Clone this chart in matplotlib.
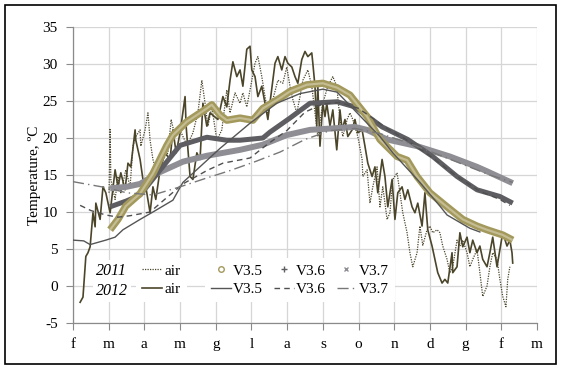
import matplotlib
matplotlib.use("Agg")
import matplotlib.pyplot as plt
from matplotlib.lines import Line2D
from matplotlib.patches import Rectangle

plt.rcParams['font.family'] = ['Liberation Serif', 'DejaVu Serif']
plt.rcParams['axes.unicode_minus'] = False

# x positions are months counted from the 1st of February
month_labels = ['f', 'm', 'a', 'm', 'g', 'l', 'a', 's', 'o', 'n', 'd', 'g', 'f', 'm']

# measured air temperature, 2011 season
air11_m = [1.01, 1.04, 1.06, 1.18, 1.26, 1.34, 1.48, 1.60, 1.68, 1.76, 1.88, 1.90, 2.02, 2.10,
           2.16, 2.24, 2.38, 2.52, 2.66, 2.75, 2.86, 3.00, 3.08, 3.20, 3.36, 3.50, 3.61, 3.70,
           3.78, 3.89, 4.03, 4.17, 4.31, 4.40, 4.54, 4.68, 4.76, 4.87, 4.98, 5.10, 5.18, 5.29,
           5.38, 5.46, 5.60, 5.74, 5.88, 5.99, 6.08, 6.16, 6.27, 6.36, 6.44, 6.58, 6.69, 6.86,
           7.00, 7.14, 7.28, 7.39, 7.48, 7.56, 7.68, 7.76, 7.84, 7.98, 8.10, 8.12, 8.24, 8.32,
           8.40, 8.52, 8.60, 8.68, 8.80, 8.88, 8.96, 9.08, 9.16, 9.24, 9.36, 9.44, 9.52, 9.64,
           9.72, 9.80, 9.92, 10.00, 10.08, 10.20, 10.28, 10.36, 10.48, 10.56, 10.64, 10.76,
           10.84, 10.92, 11.04, 11.12, 11.20, 11.32, 11.40, 11.48, 11.60, 11.68, 11.76, 11.88,
           11.96, 12.04, 12.13, 12.18, 12.24]
air11_t = [12.6, 21.3, 14.4, 11.7, 14.8, 12.6, 15.7, 13.4, 18.9, 20.2, 21.1, 18.9, 21.1, 23.4,
           19.7, 17.1, 14.8, 17.1, 18.0, 22.5, 20.2, 21.1, 20.2, 19.0, 20.7, 23.4, 27.8, 24.7,
           21.6, 24.2, 19.7, 21.1, 26.5, 23.4, 26.1, 24.7, 26.1, 24.2, 27.0, 30.1, 31.0, 28.3,
           25.6, 23.4, 25.2, 27.8, 27.4, 29.6, 27.0, 25.2, 23.4, 25.6, 27.8, 29.2, 27.0, 20.2,
           24.7, 27.0, 28.3, 27.0, 22.5, 20.2, 22.5, 23.4, 22.5, 20.2, 17.1, 14.8, 15.7, 11.2,
           13.4, 16.1, 10.7, 13.4, 9.0, 9.9, 14.4, 15.3, 12.6, 9.9, 7.2, 4.5, 2.6, 4.5,
           8.1, 5.5, 7.6, 8.1, 7.2, 7.6, 7.2, 5.4, 3.6, 1.8, 2.6, 6.2,
           5.4, 6.2, 4.5, 2.6, 3.6, 4.9, 1.8, -1.4, 0.0, 2.6, 4.5, 3.6,
           0.9, -1.4, -2.8, 0.9, 2.6]

# measured air temperature, 2012 season
air12_m = [0.20, 0.28, 0.36, 0.42, 0.48, 0.56, 0.62, 0.64, 0.76, 0.84, 0.92, 1.04, 1.06, 1.18,
           1.26, 1.34, 1.46, 1.54, 1.62, 1.74, 1.76, 1.88, 1.96, 2.04, 2.16, 2.24, 2.32, 2.44,
           2.58, 2.72, 2.80, 2.89, 3.00, 3.14, 3.17, 3.28, 3.36, 3.47, 3.56, 3.64, 3.75, 3.84,
           4.06, 4.20, 4.31, 4.40, 4.48, 4.59, 4.68, 4.76, 4.87, 4.96, 5.01, 5.10, 5.18, 5.29,
           5.38, 5.46, 5.66, 5.74, 5.85, 5.94, 6.02, 6.13, 6.22, 6.30, 6.41, 6.50, 6.58, 6.69,
           6.72, 6.78, 6.83, 6.86, 6.92, 7.00, 7.06, 7.11, 7.20, 7.28, 7.39, 7.48, 7.54, 7.62,
           7.70, 7.82, 7.90, 7.98, 8.10, 8.18, 8.26, 8.38, 8.46, 8.54, 8.66, 8.74, 8.82, 8.94,
           9.02, 9.10, 9.22, 9.30, 9.38, 9.50, 9.58, 9.66, 9.78, 9.86, 9.94, 10.06, 10.14, 10.22,
           10.34, 10.42, 10.50, 10.62, 10.64, 10.76, 10.84, 10.92, 11.04, 11.12, 11.20, 11.32,
           11.40, 11.48, 11.60, 11.68, 11.76, 11.88, 11.96, 12.04, 12.16, 12.24, 12.30, 12.32]
air12_t = [-2.2, -1.5, 4.0, 4.5, 5.3, 9.9, 8.0, 11.2, 9.0, 13.4, 12.6, 9.9, 10.7, 15.7,
           13.4, 15.3, 13.0, 16.6, 16.1, 21.1, 19.7, 17.1, 14.4, 13.4, 9.9, 13.4, 11.7, 15.7,
           18.0, 17.1, 21.1, 18.0, 20.7, 25.6, 21.6, 14.8, 14.4, 18.0, 17.1, 24.7, 21.6, 23.4,
           22.5, 25.6, 24.2, 27.8, 30.3, 28.3, 29.2, 27.0, 32.0, 32.4, 29.2, 28.3, 25.6, 27.0,
           24.7, 22.5, 30.1, 31.0, 29.2, 31.0, 30.1, 29.6, 28.3, 27.4, 30.6, 31.7, 31.0, 31.5,
           30.1, 27.0, 21.6, 27.0, 18.9, 24.7, 22.9, 24.7, 21.6, 23.8, 18.4, 23.8, 21.1, 22.5,
           20.2, 21.1, 22.5, 20.7, 21.1, 18.9, 16.6, 14.8, 16.1, 12.6, 17.1, 14.8, 10.7, 14.4,
           9.0, 12.6, 13.4, 11.7, 13.0, 10.7, 9.9, 11.2, 8.1, 12.6, 7.6, 5.4, 3.6, 1.8,
           0.4, 0.9, 0.4, 4.5, 1.8, 2.6, 7.2, 5.3, 6.6, 4.5, 6.2, 4.5,
           5.4, 3.6, 2.6, 4.5, 6.6, 2.6, 4.9, 7.2, 5.4, 6.2, 4.5, 3.1]

# model runs, 2011
v35_11_m = [1.04, 1.26, 1.48, 1.88, 2.24, 2.63, 2.80, 3.19, 3.75, 3.89, 4.12, 4.31, 4.68, 5.04,
            5.32, 5.80, 6.08, 6.55, 7.00, 7.40, 7.76, 8.24, 8.60, 9.08, 9.36, 9.64, 10.00,
            10.48, 10.92, 11.32, 11.60, 12.04, 12.32]
v35_11_t = [7.6, 9.0, 10.8, 12.5, 15.2, 19.0, 20.4, 22.2, 24.0, 24.5, 23.1, 22.4, 22.7, 22.4,
            24.0, 25.4, 26.3, 27.2, 27.4, 26.8, 25.8, 22.9, 19.8, 17.5, 17.0, 14.8, 12.6,
            10.7, 9.0, 8.1, 7.6, 6.9, 6.2]

v36_11_m = [1.04, 1.50, 1.88, 2.63, 3.00, 3.75, 4.31, 4.68, 5.32, 5.52, 6.08, 6.64, 7.40,
            7.90, 8.38, 8.66, 9.38, 10.08, 10.76, 11.32, 11.96, 12.32]
v36_11_t = [10.7, 11.5, 12.3, 16.8, 19.0, 20.1, 19.7, 19.7, 20.0, 20.8, 22.7, 24.7, 24.9,
            24.2, 22.5, 21.5, 19.8, 17.5, 14.8, 13.0, 12.1, 11.2]

v37_11_m = [1.04, 1.50, 1.88, 2.44, 3.08, 3.75, 4.68, 5.32, 5.99, 6.64, 7.28, 7.90, 8.24,
            8.80, 9.64, 10.56, 11.32, 11.60, 12.32]
v37_11_t = [13.2, 13.4, 13.8, 15.4, 16.8, 17.6, 18.4, 19.1, 20.4, 21.1, 21.3, 21.5, 21.1,
            19.8, 18.9, 17.5, 16.1, 15.5, 13.9]

# model runs, 2012
v35_12_m = [0.00, 0.30, 0.48, 0.92, 1.18, 1.40, 1.88, 2.24, 2.80, 3.08, 4.12, 4.96, 5.71,
            6.36, 7.00, 7.40, 7.96, 8.60, 8.96, 9.72, 10.28, 10.48, 11.12, 11.40]
v35_12_t = [6.2, 6.1, 5.6, 6.2, 6.6, 7.6, 9.0, 10.0, 11.6, 14.0, 18.6, 22.0, 24.7,
            26.0, 26.6, 26.2, 23.4, 20.2, 18.0, 14.0, 10.8, 9.6, 7.8, 7.3]

v36_12_m = [0.20, 0.50, 0.92, 1.26, 1.60, 2.16, 2.52, 3.08, 3.75, 4.20, 4.96, 5.46, 5.99,
            6.50, 7.00, 7.48, 8.00, 8.30, 8.82, 9.30, 10.00, 10.76, 11.40, 11.96, 12.24]
v36_12_t = [10.9, 10.2, 9.6, 9.3, 9.5, 10.0, 11.5, 13.8, 15.6, 16.6, 17.3, 19.2, 21.0,
            23.5, 24.6, 24.8, 24.0, 23.0, 21.2, 19.9, 17.6, 14.8, 12.8, 11.7, 10.9]

v37_12_m = [0.00, 0.92, 1.50, 2.24, 3.00, 3.75, 4.40, 5.10, 5.80, 6.50, 7.20, 7.90, 8.60,
            9.30, 10.00, 10.84, 11.68, 12.32]
v37_12_t = [14.1, 13.3, 12.6, 12.3, 13.4, 14.6, 15.6, 16.8, 18.1, 19.8, 21.0, 21.3, 20.6,
            19.5, 18.2, 16.6, 15.0, 14.0]

olive = '#a3995c'
olive_in = '#c4bc92'
air_col = '#4b452a'
dark = '#5e5e62'
light = '#8f8e94'

fig = plt.figure(figsize=(5.61, 3.72), dpi=100)
ax = fig.add_axes([0.1301, 0.1317, 0.8271, 0.7957])

ax.plot(air11_m, air11_t, color=air_col, lw=0.9, linestyle=(0, (1, 1)), zorder=2)
ax.plot(air12_m, air12_t, color=air_col, lw=1.2, zorder=2)

ax.plot(v37_11_m, v37_11_t, color=light, lw=4.3, solid_capstyle='butt', zorder=3)
ax.plot(v36_11_m, v36_11_t, color=dark, lw=3.6, solid_capstyle='butt', zorder=3)
ax.plot(v35_11_m, v35_11_t, color=olive, lw=5.2, solid_capstyle='butt', zorder=3)
ax.plot(v35_11_m, v35_11_t, color=olive_in, lw=1.6, solid_capstyle='butt', zorder=3)

ax.plot(v35_12_m, v35_12_t, color='#555555', lw=1.0, zorder=4)
ax.plot(v36_12_m, v36_12_t, color='#4f4f4f', lw=1.0, linestyle=(0, (4, 3)), zorder=4)
ax.plot(v37_12_m, v37_12_t, color='#777777', lw=1.0, linestyle=(0, (8, 3, 1, 3)), zorder=4)

ax.set_xlim(0, 13)
ax.set_ylim(-5, 35)
ax.set_xticks(range(14))
ax.set_xticklabels(month_labels)
ax.set_yticks(range(-5, 36, 5))
ax.tick_params(axis='both', labelsize=11, color='#8a8a8a', length=5, width=0.8)
ax.tick_params(axis='y', pad=6)
ax.tick_params(axis='x', pad=6)
ax.grid(True, color='#d6d6d6', lw=0.9)
ax.set_axisbelow(True)
for side in ['top', 'right']:
    ax.spines[side].set_visible(False)
for side in ['left', 'bottom']:
    ax.spines[side].set_color('#8a8a8a')
    ax.spines[side].set_linewidth(0.9)
ax.set_ylabel('Temperature, ºC', fontsize=11, labelpad=1)

# legend: air column, then the three model columns
air_handles = [Line2D([], [], color=air_col, lw=0.9, linestyle=(0, (1, 1))),
               Line2D([], [], color=air_col, lw=1.2)]
leg1 = ax.legend(air_handles, ['air', 'air'], loc='lower left',
                 bbox_to_anchor=(0.136, 0.071), borderaxespad=0, fontsize=11,
                 handlelength=1.3, handletextpad=0.15, labelspacing=0.3,
                 frameon=True, fancybox=False, edgecolor='none', framealpha=1)
ax.add_artist(leg1)

model_handles = [Line2D([], [], color=olive, marker='o', mfc='none', ms=4, mew=1, ls='none'),
                 Line2D([], [], color='#555555', lw=1.0),
                 Line2D([], [], color=dark, marker='+', ms=4, mew=1, ls='none'),
                 Line2D([], [], color='#4f4f4f', lw=1.0, linestyle=(0, (4, 3))),
                 Line2D([], [], color=light, marker='x', ms=3.5, mew=1, ls='none'),
                 Line2D([], [], color='#777777', lw=1.0, linestyle=(0, (8, 3, 1, 3)))]
model_labels = ['V3.5', 'V3.5', 'V3.6', 'V3.6', 'V3.7', 'V3.7']
leg2 = ax.legend(model_handles, model_labels, ncol=3, loc='lower left',
                 bbox_to_anchor=(0.284, 0.071), borderaxespad=0, fontsize=11,
                 handlelength=1.3, handletextpad=0.15, labelspacing=0.3,
                 columnspacing=0.7, numpoints=1,
                 frameon=True, fancybox=False, edgecolor='none', framealpha=1)

for yr, ypos in [('2011', 0.176), ('2012', 0.108)]:
    ax.text(0.0496, ypos, yr, transform=ax.transAxes, fontsize=11.5, style='italic',
            va='center', ha='left', zorder=6,
            bbox=dict(facecolor='white', edgecolor='none', pad=2))

fig.patches.append(Rectangle((5 / 561, 1 - 364 / 372), 551 / 561, 359 / 372,
                             transform=fig.transFigure, fill=False,
                             edgecolor='black', lw=1.2))

fig.savefig('out.png', dpi=100)
